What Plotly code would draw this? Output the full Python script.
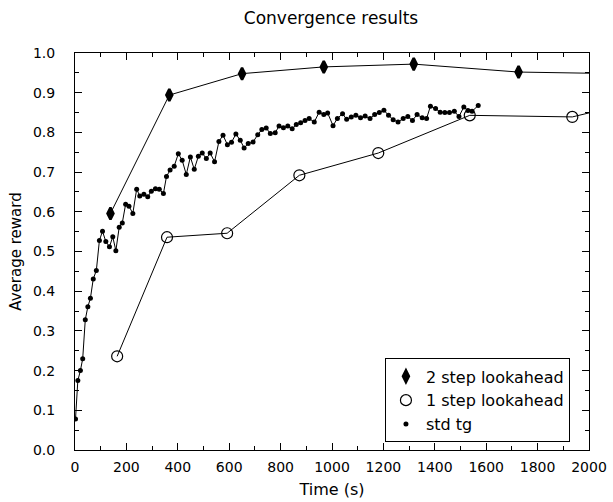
import plotly.graph_objects as go

# 2 step lookahead
two_x = [138, 367, 650, 968, 1318, 1726, 2100]
two_y = [0.596, 0.894, 0.948, 0.965, 0.972, 0.952, 0.948]

# 1 step lookahead
one_x = [164, 358, 592, 873, 1180, 1536, 1935, 2200]
one_y = [0.236, 0.536, 0.546, 0.692, 0.748, 0.843, 0.839, 0.88]

# std tg
std_x = [2, 11, 21, 30, 40, 50, 60, 71, 83, 95, 107, 120, 134, 147, 159, 172, 184,
         197, 210, 225, 240, 252, 268, 283, 297, 313, 328, 344, 356, 370, 386, 402,
         417, 433, 449, 464, 480, 495, 511, 526, 543, 560, 576, 593, 609, 626, 643,
         658, 674, 693, 711, 727, 744, 760, 779, 794, 811, 828, 845, 861, 878, 895,
         911, 931, 950, 968, 983, 1004, 1021, 1041, 1057, 1075, 1093, 1111, 1129,
         1148, 1166, 1184, 1202, 1220, 1238, 1257, 1277, 1295, 1313, 1331, 1351,
         1368, 1383, 1403, 1421, 1439, 1457, 1476, 1494, 1513, 1529, 1545, 1569]
std_y = [0.078, 0.175, 0.200, 0.230, 0.328, 0.361, 0.382, 0.431, 0.452, 0.528, 0.551,
         0.525, 0.512, 0.537, 0.502, 0.561, 0.572, 0.619, 0.614, 0.596, 0.657, 0.640,
         0.644, 0.638, 0.652, 0.658, 0.657, 0.646, 0.689, 0.705, 0.715, 0.746, 0.730,
         0.694, 0.738, 0.707, 0.740, 0.748, 0.734, 0.748, 0.726, 0.777, 0.793, 0.769,
         0.775, 0.796, 0.780, 0.761, 0.772, 0.776, 0.794, 0.807, 0.811, 0.797, 0.799,
         0.816, 0.812, 0.816, 0.809, 0.820, 0.824, 0.830, 0.835, 0.826, 0.851, 0.845,
         0.849, 0.817, 0.835, 0.847, 0.833, 0.839, 0.843, 0.837, 0.841, 0.835, 0.845,
         0.850, 0.856, 0.843, 0.832, 0.826, 0.835, 0.840, 0.830, 0.845, 0.837, 0.835,
         0.866, 0.860, 0.851, 0.850, 0.850, 0.853, 0.840, 0.864, 0.855, 0.853, 0.868]

FONT = "DejaVu Sans"
BLACK = "black"

DIAMOND = dict(symbol="diamond-tall", size=8.5, color=BLACK, line=dict(width=2.5, color=BLACK))
CIRCLE = dict(symbol="circle-open", size=11, color=BLACK, line=dict(width=1.2, color=BLACK))
DOT = dict(symbol="circle", size=5, color=BLACK)

fig = go.Figure()
fig.add_trace(go.Scatter(x=two_x, y=two_y, mode="lines+markers", showlegend=False,
                         line=dict(color=BLACK, width=1), marker=DIAMOND))
fig.add_trace(go.Scatter(x=one_x, y=one_y, mode="lines+markers", showlegend=False,
                         line=dict(color=BLACK, width=1), marker=CIRCLE))
fig.add_trace(go.Scatter(x=std_x, y=std_y, mode="lines+markers", showlegend=False,
                         line=dict(color=BLACK, width=1), marker=DOT))

# legend entries (markers only)
fig.add_trace(go.Scatter(x=[None], y=[None], mode="markers", name="2 step lookahead",
                         marker=DIAMOND))
fig.add_trace(go.Scatter(x=[None], y=[None], mode="markers", name="1 step lookahead",
                         marker=CIRCLE))
fig.add_trace(go.Scatter(x=[None], y=[None], mode="markers", name="std tg",
                         marker=DOT))

axis_common = dict(showline=True, linecolor=BLACK, linewidth=1, mirror="allticks",
                   ticks="inside", ticklen=7, tickcolor=BLACK, tickwidth=1,
                   showgrid=False, zeroline=False, automargin=False,
                   tickfont=dict(family=FONT, size=14, color=BLACK))

fig.update_xaxes(range=[0, 2000], dtick=200, tick0=0,
                 minor=dict(dtick=100, ticks="inside", ticklen=4, tickcolor=BLACK),
                 ticklabelstandoff=4,
                 title=dict(text="Time (s)", font=dict(family=FONT, size=16, color=BLACK),
                            standoff=10),
                 **axis_common)
fig.update_yaxes(range=[0, 1.0], dtick=0.1, tick0=0, tickformat=".1f",
                 minor=dict(dtick=0.05, ticks="inside", ticklen=4, tickcolor=BLACK),
                 ticklabelstandoff=16,
                 title=dict(text="Average reward", font=dict(family=FONT, size=15, color=BLACK),
                            standoff=7),
                 **axis_common)

fig.update_layout(
    width=613, height=502,
    margin=dict(l=74.5, r=23.5, t=52.5, b=51.5),
    paper_bgcolor="white", plot_bgcolor="white",
    title=dict(text="Convergence results", x=0.54, xanchor="center",
               y=1 - 18 / 502, yanchor="middle",
               font=dict(family=FONT, size=17, color=BLACK)),
    legend=dict(x=0.603, y=0.019, xanchor="left", yanchor="bottom",
                bgcolor="white", bordercolor=BLACK, borderwidth=1,
                font=dict(family=FONT, size=16, color=BLACK),
                itemwidth=30, tracegroupgap=0,
                entrywidth=168, entrywidthmode="pixels"),
    font=dict(family=FONT, color=BLACK),
)

fig.write_html("out.html")
